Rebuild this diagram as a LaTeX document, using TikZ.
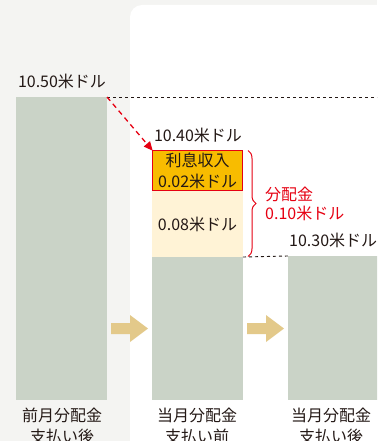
\documentclass[tikz,border=0pt]{standalone}
\usepackage{fontspec}
\newfontfamily\jp{Noto Sans CJK JP}
\usetikzlibrary{arrows.meta,decorations.pathreplacing}
\definecolor{bgc}{HTML}{F4F4F2}
\definecolor{barc}{HTML}{CAD3C7}
\definecolor{orc}{HTML}{F8BC00}
\definecolor{redc}{HTML}{E60012}
\definecolor{creamc}{HTML}{FFF3D6}
\definecolor{tanc}{HTML}{E3C98A}
\definecolor{txtc}{HTML}{231815}
\tikzset{
  bar/.style={fill=barc, draw=none, anchor=north west, inner sep=0, outer sep=0},
  lbl/.style={font=\jp\fontsize{16}{21}\selectfont, text=txtc, inner sep=0, align=center},
  rlbl/.style={font=\jp\fontsize{16}{19}\selectfont, text=redc, inner sep=0, align=left, anchor=west},
  guide/.style={draw=txtc, line width=0.9pt, dash pattern=on 3pt off 3pt},
  blockarrow/.style={fill=tanc, draw=none}
}
\begin{document}
\begin{tikzpicture}[x=1pt,y=-1pt]
\useasboundingbox (0,0) rectangle (377,441);
\clip (0,0) rectangle (377,441);
\fill[bgc] (0,0) rectangle (377,441);
\fill[white, rounded corners=12pt] (130,5) rectangle (400,470);
% bars
\node[bar, minimum width=91pt, minimum height=303pt] (b1) at (16,97) {};
\node[bar, minimum width=91pt, minimum height=143pt] (b2) at (152,257) {};
\node[bar, fill=creamc, minimum width=91pt, minimum height=66pt] (cr) at (152,191) {};
\node[bar, fill=orc, draw=redc, line width=1.4pt, minimum width=90pt, minimum height=40pt] (ib) at (152.7,150.7) {};
\node[bar, minimum width=91pt, minimum height=144pt] (b3) at (288,256) {};
% value labels
\node[lbl] (v1) at (62,81) {10.50米ドル};
\node[lbl] (v2) at (198,135) {10.40米ドル};
\node[lbl, anchor=west] (v3) at (289,240) {10.30米ドル};
\node[lbl] (ii) at (ib.center) {利息収入\\0.02米ドル};
\node[lbl] (cv) at (cr.center) {0.08米ドル};
\node[rlbl] (dv) at (265,204) {分配金\\0.10米ドル};
% guides
\draw[guide] (b1.north east) -- (377,97);
\draw[guide] (cr.south east) -- (b3.north west);
\draw[redc, line width=1.3pt, dash pattern=on 5pt off 4pt, -{Triangle[length=9pt,width=8pt]}] (b1.north east) -- (ib.north west);
\draw[redc, line width=1pt, decorate, decoration={brace, amplitude=8pt}] (248,150.5) -- (248,256.5);
% block arrows
\fill[blockarrow] (111,323) -- (130,323) -- (130,315) -- (148,328.5) -- (130,342) -- (130,334) -- (111,334) -- cycle;
\fill[blockarrow] (247,323) -- (266,323) -- (266,315) -- (284,328.5) -- (266,342) -- (266,334) -- (247,334) -- cycle;
% bottom labels
\node[lbl, anchor=north] (c1) at (62,408) {前月分配金\\支払い後};
\node[lbl, anchor=north] (c2) at (197,408) {当月分配金\\支払い前};
\node[lbl, anchor=north] (c3) at (331,408) {当月分配金\\支払い後};
\end{tikzpicture}
\end{document}
